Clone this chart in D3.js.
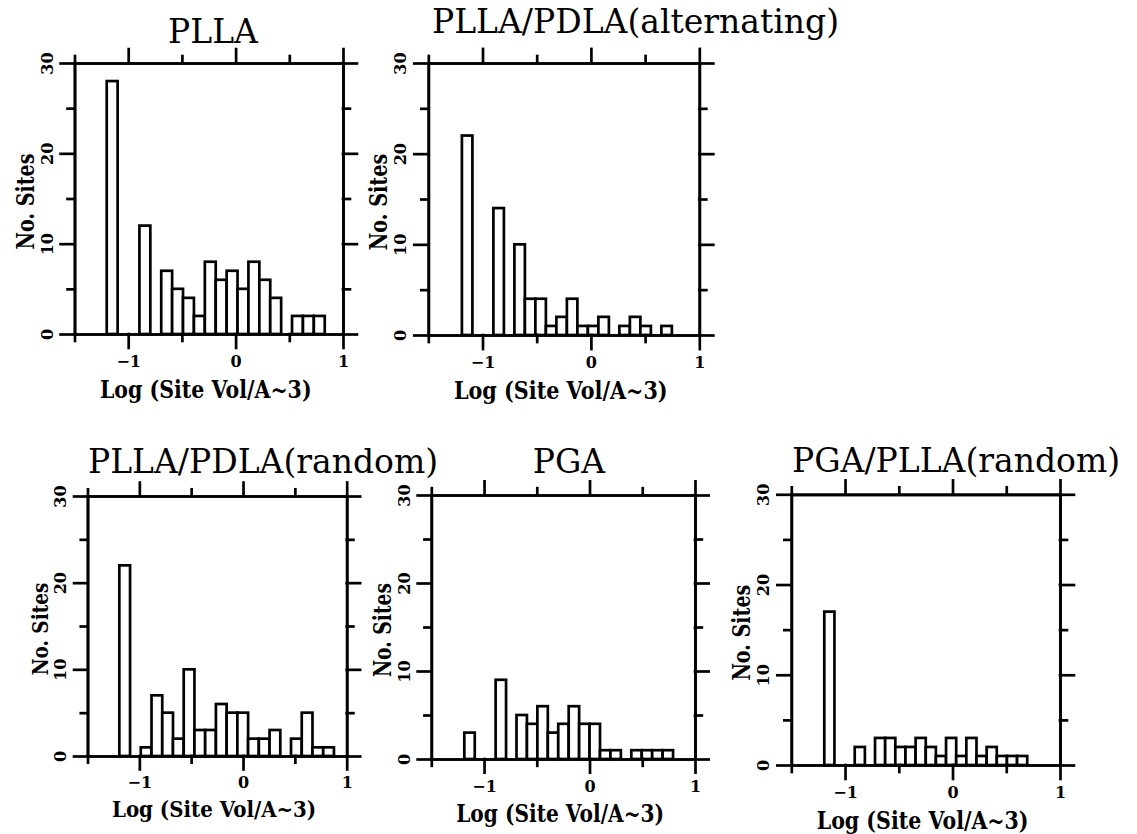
<!DOCTYPE html>
<html>
<head>
<meta charset="utf-8">
<script src="https://cdn.jsdelivr.net/npm/d3@7"></script>
<style>
  html, body { margin: 0; padding: 0; background: #fff; }
  svg { display: block; }
</style>
</head>
<body>
<div id="chart"></div>
<script>
// Site volume histograms, five panels, 20 bins each
const titles = ["PLLA", "PLLA/PDLA(alternating)", "PLLA/PDLA(random)", "PGA", "PGA/PLLA(random)"];
const binStart = [-1.2, -1.19, -1.193, -1.187, -1.193];
const binEnd   = [0.83, 0.747, 0.877, 0.792, 0.695];

const countsPLLA     = [28,0,0,12,0,7,5,4,2,8,6,7,5,8,6,4,0,2,2,2];
const countsAltern   = [22,0,0,14,0,10,4,4,1,2,4,1,1,2,0,1,2,1,0,1];
const countsRandom   = [22,0,1,7,5,2,10,3,3,6,5,5,2,2,3,0,2,5,1,1];
const countsPGA      = [3,0,0,9,0,5,4,6,3,4,6,4,4,1,1,0,1,1,1,1];
const countsPGAPLLA  = [17,0,0,2,0,3,3,2,2,3,2,1,3,1,3,1,2,1,1,1];
const allCounts = [countsPLLA, countsAltern, countsRandom, countsPGA, countsPGAPLLA];

const xDomain = [-1.5, 1];
const yDomain = [0, 30];
const xMajor = [-1, 0, 1];
const xMinor = [-1.5, -0.5, 0.5];
const yMajor = [0, 10, 20, 30];
const yMinor = [5, 15, 25];
const xLabel = "Log (Site Vol/A~3)";
const yLabel = "No. Sites";

// panel frames on the page
const layout = [
  {left: 74.5,  right: 343,   top: 63,    bottom: 334, tx: 213, anchor: "middle", ty: 43},
  {left: 428.3, right: 699.3, top: 63,    bottom: 335, tx: 432, anchor: "start",  ty: 33},
  {left: 87.5,  right: 346.7, top: 496,   bottom: 756, tx: 88,  anchor: "start",  ty: 473},
  {left: 431.3, right: 695,   top: 495,   bottom: 759, tx: 569, anchor: "middle", ty: 473},
  {left: 791.3, right: 1060,  top: 494.3, bottom: 765, tx: 792, anchor: "start",  ty: 472}
];

const W = 1137, H = 834;
const LW = 2.7;
const serif = "'DejaVu Serif', serif";

const svg = d3.select("#chart").append("svg")
  .attr("width", W).attr("height", H)
  .style("background", "#fff");

function styleAxis(g) {
  g.attr("font-family", serif).attr("font-size", null);
  g.selectAll("path, line").attr("stroke", "#000").attr("stroke-width", LW).attr("stroke-linecap", "square");
  g.selectAll("text").attr("fill", "#000").attr("font-weight", "bold").attr("font-size", 16);
}

layout.forEach((p, idx) => {
  const k = (p.right - p.left) / 270;
  const x = d3.scaleLinear().domain(xDomain).range([p.left, p.right]);
  const y = d3.scaleLinear().domain(yDomain).range([p.bottom, p.top]);
  const g = svg.append("g");

  // bars
  const counts = allCounts[idx];
  const bw = (binEnd[idx] - binStart[idx]) / counts.length;
  const bins = counts.map((c, i) => ({x0: binStart[idx] + i * bw, x1: binStart[idx] + (i + 1) * bw, c}))
    .filter(d => d.c > 0);
  g.selectAll("rect.bar")
    .data(bins)
    .join("rect")
    .attr("class", "bar")
    .attr("x", d => x(d.x0))
    .attr("width", d => x(d.x1) - x(d.x0))
    .attr("y", d => y(d.c))
    .attr("height", d => y(0) - y(d.c))
    .attr("fill", "#fff")
    .attr("stroke", "#000")
    .attr("stroke-width", LW);

  const major = 14 * k, minor = 7 * k;

  // bottom axis
  const bot = g.append("g").attr("transform", `translate(0,${p.bottom})`);
  bot.append("g").call(d3.axisBottom(x).tickValues(xMajor).tickSize(major).tickSizeOuter(0)
    .tickPadding(8 * k).tickFormat(d3.format("d"))).call(styleAxis);
  bot.append("g").call(d3.axisBottom(x).tickValues(xMinor).tickSize(minor).tickSizeOuter(0)
    .tickFormat("")).call(styleAxis);

  // top axis
  const top = g.append("g").attr("transform", `translate(0,${p.top})`);
  top.append("g").call(d3.axisTop(x).tickValues(xMajor).tickSize(major).tickSizeOuter(0).tickFormat("")).call(styleAxis);
  top.append("g").call(d3.axisTop(x).tickValues(xMinor).tickSize(minor).tickSizeOuter(0).tickFormat("")).call(styleAxis);

  // left axis
  const lef = g.append("g").attr("transform", `translate(${p.left},0)`);
  lef.append("g").call(d3.axisLeft(y).tickValues(yMajor).tickSize(major).tickSizeOuter(0).tickFormat(d3.format("d")))
    .call(styleAxis)
    .selectAll("text")
    .attr("transform", "rotate(-90)")
    .attr("x", 0).attr("y", -22 * k).attr("dy", 0)
    .attr("text-anchor", "middle");
  lef.append("g").call(d3.axisLeft(y).tickValues(yMinor).tickSize(minor).tickSizeOuter(0).tickFormat("")).call(styleAxis);

  // right axis
  const rig = g.append("g").attr("transform", `translate(${p.right},0)`);
  rig.append("g").call(d3.axisRight(y).tickValues(yMajor).tickSize(major).tickSizeOuter(0).tickFormat("")).call(styleAxis);
  rig.append("g").call(d3.axisRight(y).tickValues(yMinor).tickSize(minor).tickSizeOuter(0).tickFormat("")).call(styleAxis);

  // axis titles
  g.append("text")
    .attr("transform", `translate(${(p.left + p.right) / 2 - 3},${p.bottom + 64 * k}) scale(0.86,1)`)
    .attr("text-anchor", "middle")
    .attr("font-family", serif).attr("font-weight", "bold").attr("font-size", 24 * k)
    .text(xLabel);

  g.append("text")
    .attr("transform", `translate(${p.left - 41 * k},${(p.top + p.bottom) / 2 + 3}) rotate(-90) scale(0.8,1)`)
    .attr("text-anchor", "middle")
    .attr("font-family", serif).attr("font-weight", "bold").attr("font-size", 24 * k)
    .text(yLabel);

  // panel title
  g.append("text")
    .attr("x", p.tx).attr("y", p.ty)
    .attr("text-anchor", p.anchor)
    .attr("font-family", serif).attr("font-size", 33)
    .text(titles[idx]);
});
</script>
</body>
</html>
